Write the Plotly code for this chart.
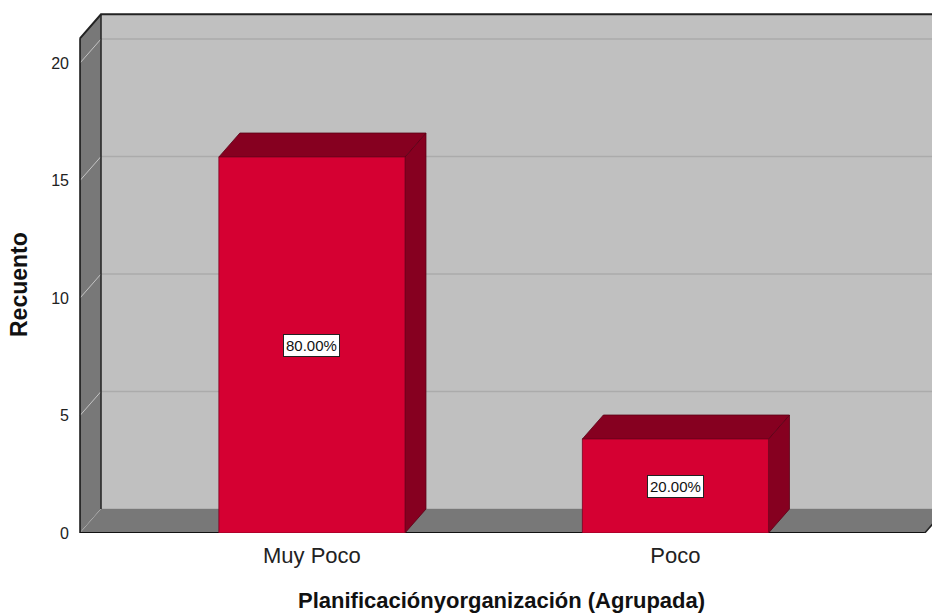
import plotly.graph_objects as go

# ---- data ----
categories = ["Muy Poco", "Poco"]
counts = [16, 4]
percent_labels = ["80.00%", "20.00%"]
ytick_vals = [0, 5, 10, 15, 20]
x_title = "Planificaciónyorganización (Agrupada)"
y_title = "Recuento"

# ---- styling / geometry constants (axis units) ----
FONT = "Liberation Sans, Arial, sans-serif"
FRONT = "#d50032"
DARK = "#860020"
WALL = "#c0c0c0"
SIDE = "#787878"
BAR_W = 0.512
DX = 0.0578      # depth offset in category units
DY = 1.02        # depth offset in value units
X0 = -0.638      # front-left edge of the box
X1 = 1.686       # front-right edge of floor
XR = 1.9         # back wall extends beyond view
YTOP = 21.05     # top of side wall (front)

xs = list(range(len(categories)))

fig = go.Figure()

def poly(px, py, fill, line_color=None, lw=0):
    fig.add_trace(go.Scatter(
        x=px + [px[0]], y=py + [py[0]], mode="lines", fill="toself",
        fillcolor=fill, line=dict(color=line_color or fill, width=lw),
        hoverinfo="skip", showlegend=False))

def line(px, py, color, width):
    fig.add_trace(go.Scatter(x=px, y=py, mode="lines",
                             line=dict(color=color, width=width),
                             hoverinfo="skip", showlegend=False))

# back wall
poly([X0 + DX, XR, XR, X0 + DX], [DY, DY, YTOP + DY, YTOP + DY], WALL)
# back wall gridlines
for v in ytick_vals[1:]:
    line([X0 + DX, XR], [v + DY, v + DY], "#ababab", 1.5)
# floor/back wall seam
line([X0 + DX, XR], [DY, DY], "#a4a4a4", 1)
# side wall
poly([X0, X0 + DX, X0 + DX, X0], [0, DY, YTOP + DY, YTOP], SIDE)
# side wall diagonal gridlines
for v in ytick_vals:
    line([X0, X0 + DX], [v, v + DY], "#c4c4c4", 1)
# floor
poly([X0, X0 + DX, X1 + DX, X1], [0, DY, DY, 0], SIDE)
# right end of floor (diagonal edge)
line([X1, X1 + DX], [0, DY], "#222222", 1.5)
# frame lines
line([X0, X0], [0, YTOP], "#111111", 1.5)
line([X0 + DX, X0 + DX], [DY, YTOP + DY], "#222222", 1.5)
line([X0, X0 + DX, XR], [YTOP, YTOP + DY, YTOP + DY], "#222222", 2)
line([X0, X1], [0, 0], "#111111", 2)

# 3D bars
for x, v in zip(xs, counts):
    l, r = x - BAR_W / 2, x + BAR_W / 2
    poly([r, r + DX, r + DX, r], [0, DY, v + DY, v], DARK, "#5a0015", 0.8)      # side
    poly([l, l + DX, r + DX, r], [v, v + DY, v + DY, v], DARK, "#5a0015", 0.8)  # top
    poly([l, r, r, l], [0, 0, v, v], FRONT, "#7a0020", 0.8)                     # front

# value labels
for x, v, t in zip(xs, counts, percent_labels):
    fig.add_annotation(x=x, y=v / 2, text=t, showarrow=False,
                       font=dict(family=FONT, size=15, color="#111111"),
                       bgcolor="white", bordercolor="#222222", borderwidth=1, borderpad=2)

L, R, T, B = 77, 0, 11, 80
W, H = 932, 613
PXU = 363.5
xmin = X0 - 3 / PXU
xmax = xmin + (W - L - R) / PXU
ymax = (H - T - B) / 23.5
PW, PH = W - L - R, H - T - B

# x title centred at pixel (501, 600)
fig.add_annotation(x=(501 - L) / PW, xref="paper", y=-(600 - (H - B)) / PH,
                   yref="paper", text="<b>" + x_title + "</b>", showarrow=False,
                   yanchor="middle", xanchor="center",
                   font=dict(family=FONT, size=22, color="#111111"))
# y title centred at pixel (19, 285)
fig.add_annotation(x=-(L - 19) / PW, xref="paper", y=(H - B - 285) / PH,
                   yref="paper", text="<b>" + y_title + "</b>", showarrow=False, textangle=-90,
                   xanchor="center", yanchor="middle",
                   font=dict(family=FONT, size=23, color="#111111"))

fig.update_layout(
    width=W, height=H,
    margin=dict(l=L, r=R, t=T, b=B, autoexpand=False),
    paper_bgcolor="white", plot_bgcolor="white",
    showlegend=False,
    xaxis=dict(range=[xmin, xmax], tickmode="array", tickvals=xs, ticktext=categories,
               showgrid=False, zeroline=False, showline=False, ticks="",
               ticklabelstandoff=7, fixedrange=True,
               tickfont=dict(family=FONT, size=22, color="#222222")),
    yaxis=dict(range=[0, ymax], tickmode="array", tickvals=ytick_vals,
               showgrid=False, zeroline=False, showline=False, ticks="",
               ticklabelstandoff=7, fixedrange=True,
               tickfont=dict(family=FONT, size=16, color="#222222")),
)

fig.write_html("out.html", config={"displayModeBar": False},
               post_script="document.body.style.margin='0px';document.body.style.overflow='hidden';")
